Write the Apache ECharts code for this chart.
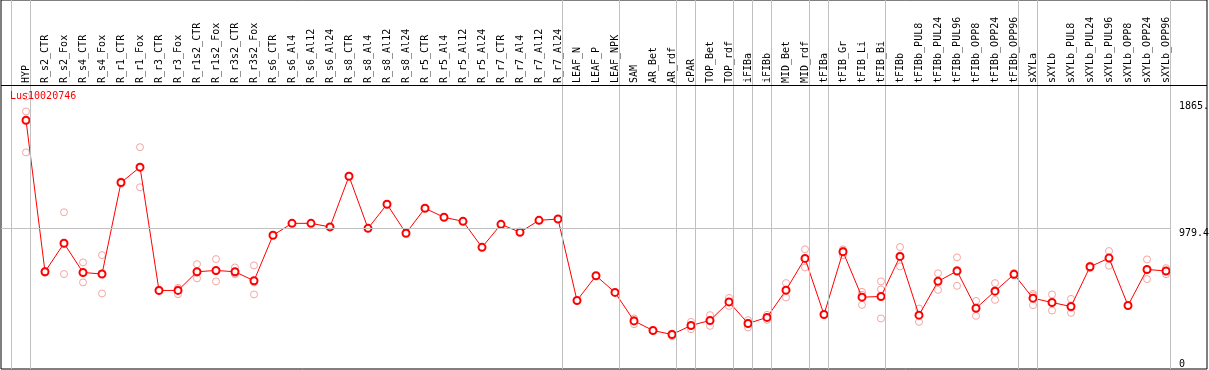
<!DOCTYPE html>
<html>
<head>
<meta charset="utf-8">
<script src="https://cdn.jsdelivr.net/npm/echarts@6/dist/echarts.min.js"></script>
<style>
  html, body { margin: 0; padding: 0; background: #fff; }
  #chart { width: 1209px; height: 370px; }
</style>
</head>
<body>
<div id="chart"></div>
<script>
var categories = [
  'HYP', 'R_s2_CTR', 'R_s2_Fox', 'R_s4_CTR', 'R_s4_Fox', 'R_r1_CTR', 'R_r1_Fox', 'R_r3_CTR', 'R_r3_Fox',
  'R_r1s2_CTR', 'R_r1s2_Fox', 'R_r3s2_CTR', 'R_r3s2_Fox', 'R_s6_CTR', 'R_s6_Al4', 'R_s6_Al12', 'R_s6_Al24',
  'R_s8_CTR', 'R_s8_Al4', 'R_s8_Al12', 'R_s8_Al24', 'R_r5_CTR', 'R_r5_Al4', 'R_r5_Al12', 'R_r5_Al24',
  'R_r7_CTR', 'R_r7_Al4', 'R_r7_Al12', 'R_r7_Al24', 'LEAF_N', 'LEAF_P', 'LEAF_NPK', 'SAM', 'AR_Bet', 'AR_rdf',
  'cPAR', 'TOP_Bet', 'TOP_rdf', 'iFIBa', 'iFIBb', 'MID_Bet', 'MID_rdf', 'tFIBa', 'tFIB_Gr', 'tFIB_Li', 'tFIB_Bi',
  'tFIBb', 'tFIBb_PUL8', 'tFIBb_PUL24', 'tFIBb_PUL96', 'tFIBb_OPP8', 'tFIBb_OPP24', 'tFIBb_OPP96',
  'sXYLa', 'sXYLb', 'sXYLb_PUL8', 'sXYLb_PUL24', 'sXYLb_PUL96', 'sXYLb_OPP8', 'sXYLb_OPP24', 'sXYLb_OPP96'
];

var meanValues = [
  1732, 677, 875, 672, 661, 1298, 1405, 547, 547, 677, 686, 677, 614,
  931, 1014, 1014, 989, 1342, 979, 1147, 945, 1119, 1056, 1028, 847, 1007, 952, 1035, 1044,
  477, 649, 533, 335, 268, 240, 303, 338, 467, 317, 359, 549, 770, 379, 816, 500, 505,
  784, 375, 610, 682, 423, 542, 659, 493, 463, 435, 712, 772, 442, 693, 682
];

var rep1 = [
  1897, 670, 1091, 742, 793, 1290, 1544, 540, 565, 730, 765, 707, 721,
  null, null, null, null, null, null, null, null, null, null, null, null, null, null, null, null,
  null, null, null, 352, null, 228, 328, 375, 495, 340, 377, 598, 833, null, 833, 537, 610,
  849, 421, 666, 777, 474, 598, 668, 523, 519, 488, 702, 821, null, 763, 702
];
var rep2 = [
  1793, 682, 661, 603, 526, 1305, 1265, 553, 521, 631, 610, 659, 519,
  null, null, null, null, null, null, null, null, null, null, null, null, null, null, null, null,
  null, null, null, 312, null, 246, 277, 300, 439, 289, 342, 498, 707, null, 791, 446, 554,
  714, 328, 551, 579, 370, 481, 652, 444, 407, 391, 720, 719, null, 626, 660
];
var rep3 = [
  1508, 679, 873, 671, 664, 1299, 1406, 548, 555, 670, 683, 665, 602,
  null, null, null, null, null, null, null, null, null, null, null, null, null, null, null, null,
  null, null, null, 341, null, 246, 304, 339, 467, 322, 358, 551, 770, null, 824, 517, 352,
  789, 376, 613, 690, 425, 547, 657, 512, 463, 426, 714, 776, null, 690, 684
];

// index of the last category in each group (separator drawn just right of it)
var groupEnds = [-1, 0, 28, 31, 34, 35, 37, 38, 39, 41, 42, 45, 52, 53, 60];

var yTickValues = [0, 979.4, 1865];
var yTickLabels = ['0', '979.4', '1865.'];
var midLine = 979.4;

// layout: first category at x=26, 19px per category, grid spans x 1..1207
var slot = 19, firstX = 26, sepShift = 4 / slot;
var xMin = (1 - firstX) / slot, xMax = (1207 - firstX) / slot;
var yPlotMax = 1977, headerPx = 85, plotPx = 369;
var yMax = yPlotMax * plotPx / (plotPx - headerPx);

var mono = 'DejaVu Sans Mono';

var repData = [];
[rep1, rep2, rep3].forEach(function (arr) {
  arr.forEach(function (v, i) {
    if (v != null) repData.push([i, v]);
  });
});

var lastSep = groupEnds[groupEnds.length - 1] + sepShift;

var chart = echarts.init(document.getElementById('chart'));

var option = {
  animation: false,
  backgroundColor: '#fff',
  title: {
    text: 'Lus10020746',
    left: 10, top: 91, padding: 0,
    textStyle: { color: '#ff0000', fontSize: 10, fontFamily: mono, fontWeight: 'normal' }
  },
  grid: {
    left: 1, right: 2, top: 0, bottom: 1,
    show: true, borderColor: '#000', borderWidth: 1,
    outerBoundsMode: 'none'
  },
  xAxis: {
    type: 'value',
    position: 'top',
    offset: -headerPx,
    min: xMin, max: xMax,
    axisLine: { show: false },
    axisTick: { show: false },
    splitLine: { show: false },
    axisLabel: {
      customValues: categories.map(function (c, i) { return i; }),
      formatter: function (v) { return categories[Math.round(v)]; },
      rotate: 90,
      margin: 2,
      color: '#000',
      fontSize: 10,
      fontFamily: mono
    }
  },
  yAxis: {
    type: 'value',
    position: 'right',
    offset: -31,
    min: 0, max: yMax,
    axisLine: { show: false },
    axisTick: { show: false },
    splitLine: { show: false },
    axisLabel: {
      customValues: yTickValues,
      formatter: function (v) { return yTickLabels[yTickValues.indexOf(v)]; },
      verticalAlign: 'top',
      verticalAlignMinLabel: 'bottom',
      margin: 3,
      color: '#000',
      fontSize: 10,
      fontFamily: mono
    }
  },
  series: [
    {
      type: 'scatter',
      data: repData,
      symbol: 'circle',
      symbolSize: 7,
      itemStyle: { color: 'rgba(0,0,0,0)', borderColor: '#f09090', borderWidth: 1 },
      z: 2,
      markLine: {
        silent: true,
        symbol: 'none',
        label: { show: false },
        lineStyle: { color: '#c0c0c0', type: 'solid', width: 1 },
        data: groupEnds.map(function (e) { return { xAxis: e + sepShift }; }).concat([
          [{ coord: [xMin, midLine] }, { coord: [lastSep, midLine] }],
          // header rule under the category labels
          [{ coord: [xMin, yPlotMax], lineStyle: { color: '#000' } }, { coord: [xMax, yPlotMax] }]
        ])
      }
    },
    {
      type: 'line',
      data: meanValues.map(function (v, i) { return [i, v]; }),
      symbol: 'emptyCircle',
      symbolSize: 7,
      lineStyle: { color: '#ff0000', width: 1 },
      itemStyle: { color: '#ff0000', borderColor: '#ff0000', borderWidth: 1.5 },
      z: 3
    }
  ]
};

chart.setOption(option);

window.onresize = function () {
  chart.resize();
};
</script>
</body>
</html>
